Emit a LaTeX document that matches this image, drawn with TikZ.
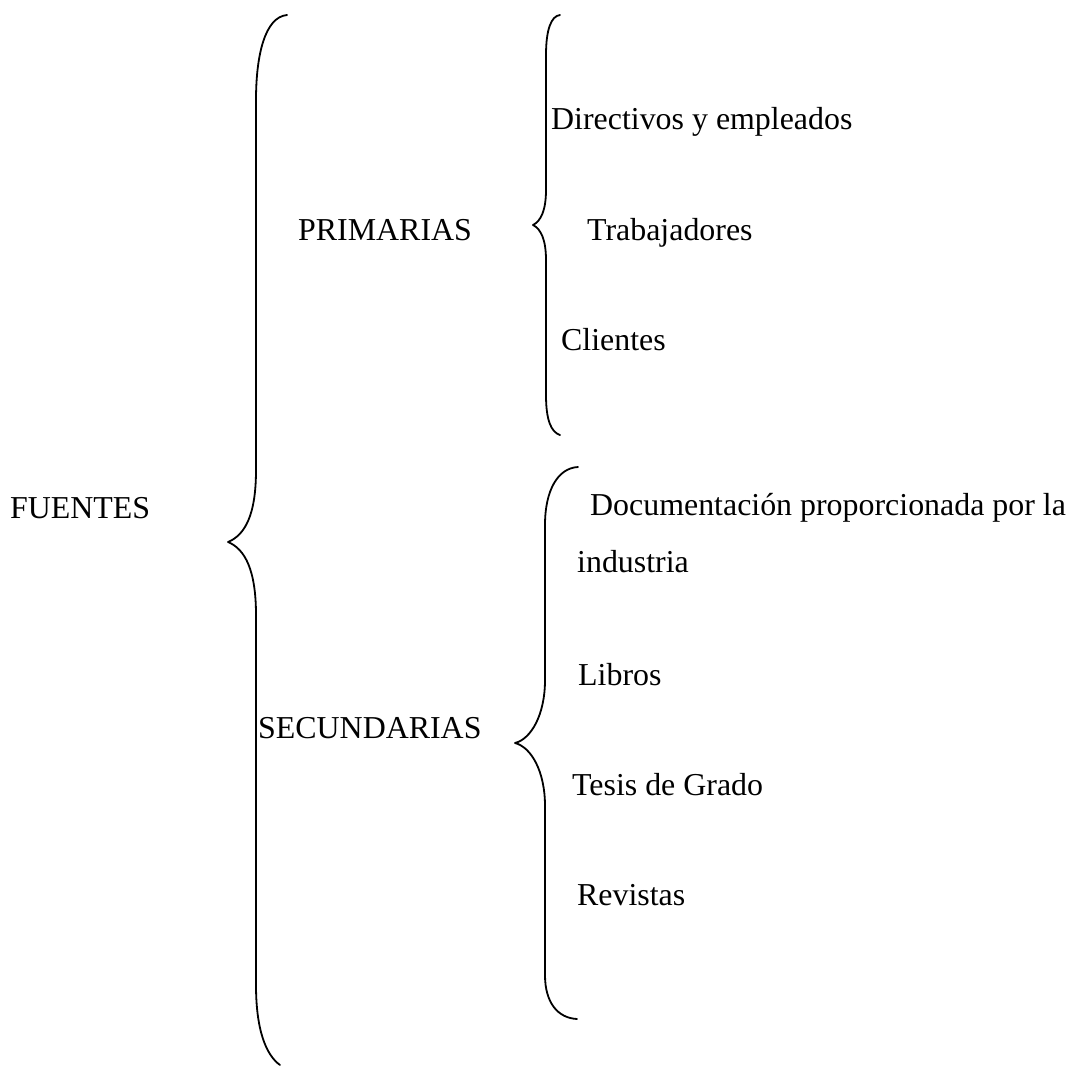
\documentclass[tikz,border=0pt]{standalone}
\usepackage{fontspec}
\setmainfont{Liberation Serif}
\begin{document}
\begin{tikzpicture}[x=1pt,y=-1pt,
  lbl/.style={anchor=base west,inner sep=0pt,font=\fontsize{31.9}{38}\selectfont},
  bracket/.style={line width=1.8pt,line cap=round,line join=round}]
\useasboundingbox (0,0) rectangle (1076,1066);

% labels
\node[lbl] (fuentes) at (10,518) {FUENTES};
\node[lbl] (prim) at (298,240) {PRIMARIAS};
\node[lbl] (sec) at (258,738) {SECUNDARIAS};
\node[lbl] (dir) at (551,129) {Directivos y empleados};
\node[lbl] (trab) at (587,240) {Trabajadores};
\node[lbl] (cli) at (561,350) {Clientes};
\node[lbl] (doc) at (590,515) {Documentación proporcionada por la};
\node[lbl] (ind) at (577,572) {industria};
\node[lbl] (lib) at (578,685) {Libros};
\node[lbl] (tes) at (572,795) {Tesis de Grado};
\node[lbl] (rev) at (577,905) {Revistas};

% main brace
\draw[bracket] (287,15) .. controls (265,17) and (256,55) .. (256,100)
  -- (256,470) .. controls (256,515) and (245,535) .. (228,542)
  .. controls (245,549) and (256,570) .. (256,615)
  -- (256,985) .. controls (256,1030) and (266,1055) .. (280,1065);

% brace of primary sources
\draw[bracket] (560,15) .. controls (551,16) and (546,30) .. (546,55)
  -- (546,190) .. controls (546,210) and (541,221) .. (533,225)
  .. controls (541,229) and (546,240) .. (546,260)
  -- (546,395) .. controls (546,420) and (551,432) .. (560,435);

% brace of secondary sources
\draw[bracket] (578,467) .. controls (558,468) and (545,490) .. (545,525)
  -- (545,680) .. controls (545,715) and (531,739) .. (515,743)
  .. controls (531,747) and (545,771) .. (545,806)
  -- (545,975) .. controls (545,1003) and (558,1018) .. (577,1019);
\end{tikzpicture}
\end{document}
